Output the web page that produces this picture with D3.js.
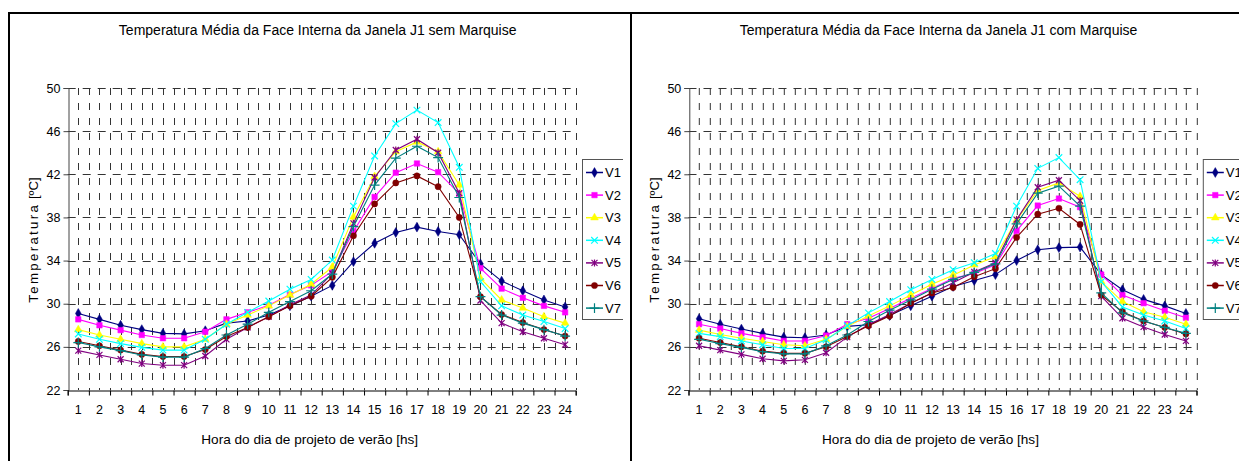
<!DOCTYPE html>
<html>
<head>
<meta charset="utf-8">
<script src="https://cdn.jsdelivr.net/npm/d3@7"></script>
<style>
  body { margin: 0; background: #fff; }
  text { font-family: "Liberation Sans", Arial, sans-serif; fill: #000; }
</style>
</head>
<body>
<div id="chart"></div>
<script>
// hours of the summer design day
var hours = d3.range(1, 25);
var seriesNames = ["V1", "V2", "V3", "V4", "V5", "V6", "V7"];
var yTicks = [22, 26, 30, 34, 38, 42, 46, 50];

// sem marquise (left chart)
var sem_V1 = [29.1, 28.55, 28.0, 27.6, 27.25, 27.2, 27.5, 28.2, 28.4, 28.95, 29.8, 30.7, 31.7, 33.9, 35.6, 36.6, 37.1, 36.7, 36.4, 33.7, 32.1, 31.2, 30.35, 29.7];
var sem_V2 = [28.55, 28.0, 27.55, 27.1, 26.8, 26.8, 27.4, 28.55, 29.2, 29.85, 30.85, 31.7, 33.0, 36.7, 39.9, 42.15, 43.0, 42.2, 40.2, 33.3, 31.4, 30.55, 29.8, 29.2];
var sem_V3 = [27.6, 27.1, 26.7, 26.3, 26.0, 26.0, 26.7, 28.1, 28.95, 29.8, 30.8, 31.8, 33.4, 38.05, 41.8, 44.1, 45.0, 44.1, 41.0, 32.35, 30.35, 29.6, 28.8, 28.2];
var sem_V4 = [27.2, 26.7, 26.3, 25.95, 25.7, 25.7, 26.7, 28.1, 29.2, 30.25, 31.35, 32.25, 34.05, 39.05, 43.7, 46.7, 47.95, 46.8, 42.65, 32.05, 29.8, 28.95, 28.35, 27.7];
var sem_V5 = [25.65, 25.25, 24.85, 24.45, 24.3, 24.3, 25.15, 26.7, 27.8, 28.8, 29.9, 30.8, 32.8, 37.45, 41.7, 44.25, 45.25, 44.0, 40.25, 30.3, 28.2, 27.4, 26.8, 26.2];
var sem_V6 = [26.5, 26.1, 25.7, 25.3, 25.1, 25.1, 25.75, 26.95, 27.8, 28.8, 29.8, 30.7, 32.45, 36.3, 39.25, 41.2, 41.85, 40.85, 38.0, 30.65, 29.0, 28.25, 27.6, 27.0];
var sem_V7 = [26.4, 26.0, 25.65, 25.25, 25.05, 25.05, 25.85, 27.1, 28.1, 29.2, 30.2, 31.2, 32.75, 37.15, 41.0, 43.5, 44.6, 43.55, 39.85, 30.65, 28.95, 28.2, 27.6, 27.0];

// com marquise (right chart)
var com_V1 = [28.6, 28.1, 27.65, 27.25, 26.9, 26.85, 27.1, 27.9, 28.05, 28.9, 29.8, 30.7, 31.6, 32.15, 32.7, 34.0, 35.0, 35.2, 35.25, 32.7, 31.3, 30.4, 29.8, 29.1];
var com_V2 = [28.1, 27.7, 27.25, 26.9, 26.55, 26.55, 27.05, 28.1, 28.65, 29.55, 30.5, 31.4, 32.35, 32.8, 33.6, 36.75, 39.1, 39.75, 38.95, 32.7, 30.8, 30.05, 29.35, 28.7];
var com_V3 = [27.55, 27.15, 26.8, 26.5, 26.2, 26.1, 26.7, 27.9, 28.85, 29.8, 30.8, 31.8, 32.65, 33.6, 34.35, 37.75, 40.5, 41.2, 39.95, 32.05, 30.2, 29.25, 28.75, 28.1];
var com_V4 = [27.25, 26.95, 26.55, 26.2, 25.85, 25.85, 26.65, 27.95, 29.15, 30.2, 31.3, 32.25, 33.15, 33.8, 34.65, 39.05, 42.55, 43.55, 41.5, 32.05, 29.7, 28.95, 28.4, 27.7];
var com_V5 = [26.1, 25.7, 25.3, 24.9, 24.7, 24.8, 25.45, 26.9, 28.05, 29.0, 30.05, 31.0, 31.95, 32.95, 33.8, 37.8, 40.8, 41.45, 39.55, 30.7, 28.65, 27.85, 27.15, 26.55];
var com_V6 = [26.8, 26.4, 26.0, 25.6, 25.4, 25.4, 26.0, 26.95, 27.95, 28.85, 30.05, 31.0, 31.5, 32.5, 33.25, 36.15, 38.3, 38.85, 37.35, 30.8, 29.25, 28.4, 27.8, 27.2];
var com_V7 = [26.7, 26.3, 25.95, 25.55, 25.35, 25.35, 26.1, 27.1, 28.35, 29.4, 30.35, 31.35, 32.25, 32.9, 33.7, 37.4, 40.25, 40.9, 39.05, 31.0, 29.15, 28.4, 27.8, 27.25];

var colors = ["#000080", "#FF00FF", "#FFFF00", "#00FFFF", "#800080", "#800000", "#008080"];

// marker paths (excel style)
var star = "M-3,-3L3,3M-3,3L3,-3M0,-3.5L0,3.5";
var markers = [
  { sym: d3.symbolDiamond, size: 28, fill: true },
  { sym: d3.symbolSquare, size: 30, fill: true },
  { sym: d3.symbolTriangle, size: 26, fill: true },
  { sym: d3.symbolTimes, size: 30, fill: false },
  { custom: star, fill: false },
  { sym: d3.symbolCircle, size: 30, fill: true },
  { sym: d3.symbolPlus, size: 34, fill: false }
];

var W = 1239, H = 461;
var svg = d3.select("#chart").append("svg")
  .attr("width", W)
  .attr("height", H);

function drawPanel(ox, title, data) {
  var g = svg.append("g").attr("transform", "translate(" + ox + ",0)");
  var left = 67.7, right = 575.7, top = 88, bottom = 390;
  var mid = (left + right) / 2;

  var x = d3.scaleLinear().domain([0.5, 24.5]).range([left, right]);
  var y = d3.scaleLinear().domain([22, 50]).range([bottom, top]);

  // dashed grid: vertical every half hour, horizontal every 4 degrees
  g.append("g").selectAll("line")
    .data(d3.range(1, 49).map(function (k) { return 0.5 + k / 2; }))
    .enter().append("line")
    .attr("x1", function (d) { return Math.round(x(d)) + 0.5; })
    .attr("x2", function (d) { return Math.round(x(d)) + 0.5; })
    .attr("y1", top).attr("y2", bottom)
    .attr("stroke", "#333").attr("stroke-width", 1)
    .attr("stroke-dasharray", "7,8");
  g.append("g").selectAll("line")
    .data(yTicks.slice(1))
    .enter().append("line")
    .attr("x1", left).attr("x2", right)
    .attr("y1", function (d) { return Math.round(y(d)) + 0.5; })
    .attr("y2", function (d) { return Math.round(y(d)) + 0.5; })
    .attr("stroke", "#333").attr("stroke-width", 1)
    .attr("stroke-dasharray", "8,7");

  // y axis
  var yAxis = g.append("g")
    .attr("transform", "translate(" + (Math.round(left) + 0.5) + ",0)")
    .call(d3.axisLeft(y).tickValues(yTicks).tickSize(5).tickPadding(3));
  yAxis.select(".domain").attr("stroke", "#444");
  yAxis.selectAll(".tick line").attr("stroke", "#444");
  yAxis.selectAll("text").style("font-size", "12.5px")
    .style("font-family", "'Liberation Sans', Arial, sans-serif");

  // x axis: ticks at hour boundaries, labels at hour centres
  var xAxis = g.append("g")
    .attr("transform", "translate(0," + (Math.round(bottom) + 0.5) + ")")
    .call(d3.axisBottom(x).tickValues(d3.range(0.5, 25, 1)).tickSize(5).tickFormat(""));
  xAxis.select(".domain").attr("stroke", "#000");
  xAxis.selectAll(".tick line").attr("stroke", "#000");
  g.append("g").selectAll("text")
    .data(hours)
    .enter().append("text")
    .attr("x", function (d) { return x(d); })
    .attr("y", 414)
    .attr("text-anchor", "middle")
    .style("font-size", "12.5px")
    .text(function (d) { return d; });

  // titles
  g.append("text")
    .attr("x", mid - 4).attr("y", 35)
    .attr("text-anchor", "middle")
    .style("font-size", "14px")
    .text(title);
  g.append("text")
    .attr("x", mid - 12).attr("y", 444)
    .attr("text-anchor", "middle")
    .style("font-size", "13.6px")
    .text("Hora do dia de projeto de verão [hs]");
  var yt = g.append("text")
    .attr("transform", "translate(38,240) rotate(-90)")
    .attr("text-anchor", "middle")
    .style("font-size", "13.3px");
  yt.append("tspan").style("letter-spacing", "2.3px").text("Temperatura");
  yt.append("tspan").text(" [ºC]");

  // series
  var line = d3.line()
    .x(function (d, i) { return x(hours[i]); })
    .y(function (d) { return y(d); });

  data.forEach(function (vals, s) {
    var col = colors[s];
    g.append("path")
      .datum(vals)
      .attr("d", line)
      .attr("fill", "none")
      .attr("stroke", col)
      .attr("stroke-width", 1.1);
    g.append("g").selectAll("path")
      .data(vals)
      .enter().append("path")
      .attr("transform", function (d, i) { return "translate(" + x(hours[i]) + "," + y(d) + ")"; })
      .attr("d", markerPath(s))
      .attr("fill", markers[s].fill ? col : "none")
      .attr("stroke", col)
      .attr("stroke-width", markers[s].fill ? 0.5 : 1.2);
  });

  // legend
  var lg = g.append("g").attr("transform", "translate(582,159)");
  lg.append("rect")
    .attr("x", 0.5).attr("y", 0.5)
    .attr("width", 44).attr("height", 160)
    .attr("fill", "#fff").attr("stroke", "#555").attr("stroke-width", 1);
  seriesNames.forEach(function (name, s) {
    var ly = 13.5 + s * 22.6;
    lg.append("line")
      .attr("x1", 4).attr("x2", 21)
      .attr("y1", ly).attr("y2", ly)
      .attr("stroke", colors[s]).attr("stroke-width", 1.5);
    lg.append("path")
      .attr("transform", "translate(12.5," + ly + ")")
      .attr("d", markerPath(s))
      .attr("fill", markers[s].fill ? colors[s] : "none")
      .attr("stroke", colors[s])
      .attr("stroke-width", markers[s].fill ? 0.5 : 1.2);
    lg.append("text")
      .attr("x", 23).attr("y", ly + 4.5)
      .style("font-size", "13px")
      .text(name);
  });
}

function markerPath(s) {
  var m = markers[s];
  if (m.custom) return m.custom;
  return d3.symbol().type(m.sym).size(m.size)();
}

drawPanel(0, "Temperatura Média da Face Interna da Janela J1 sem Marquise",
  [sem_V1, sem_V2, sem_V3, sem_V4, sem_V5, sem_V6, sem_V7]);
drawPanel(620.8, "Temperatura Média da Face Interna da Janela J1 com Marquise",
  [com_V1, com_V2, com_V3, com_V4, com_V5, com_V6, com_V7]);

// panel frames (drawn last so the legend of the left chart is clipped by the divider)
svg.append("rect").attr("x", 623).attr("y", 150).attr("width", 7).attr("height", 180).attr("fill", "#fff");
svg.append("line").attr("x1", 8).attr("x2", W).attr("y1", 13).attr("y2", 13)
  .attr("stroke", "#000").attr("stroke-width", 2);
svg.append("line").attr("x1", 9).attr("x2", 9).attr("y1", 12).attr("y2", H)
  .attr("stroke", "#000").attr("stroke-width", 2);
svg.append("line").attr("x1", 631).attr("x2", 631).attr("y1", 12).attr("y2", H)
  .attr("stroke", "#000").attr("stroke-width", 2);
</script>
</body>
</html>
